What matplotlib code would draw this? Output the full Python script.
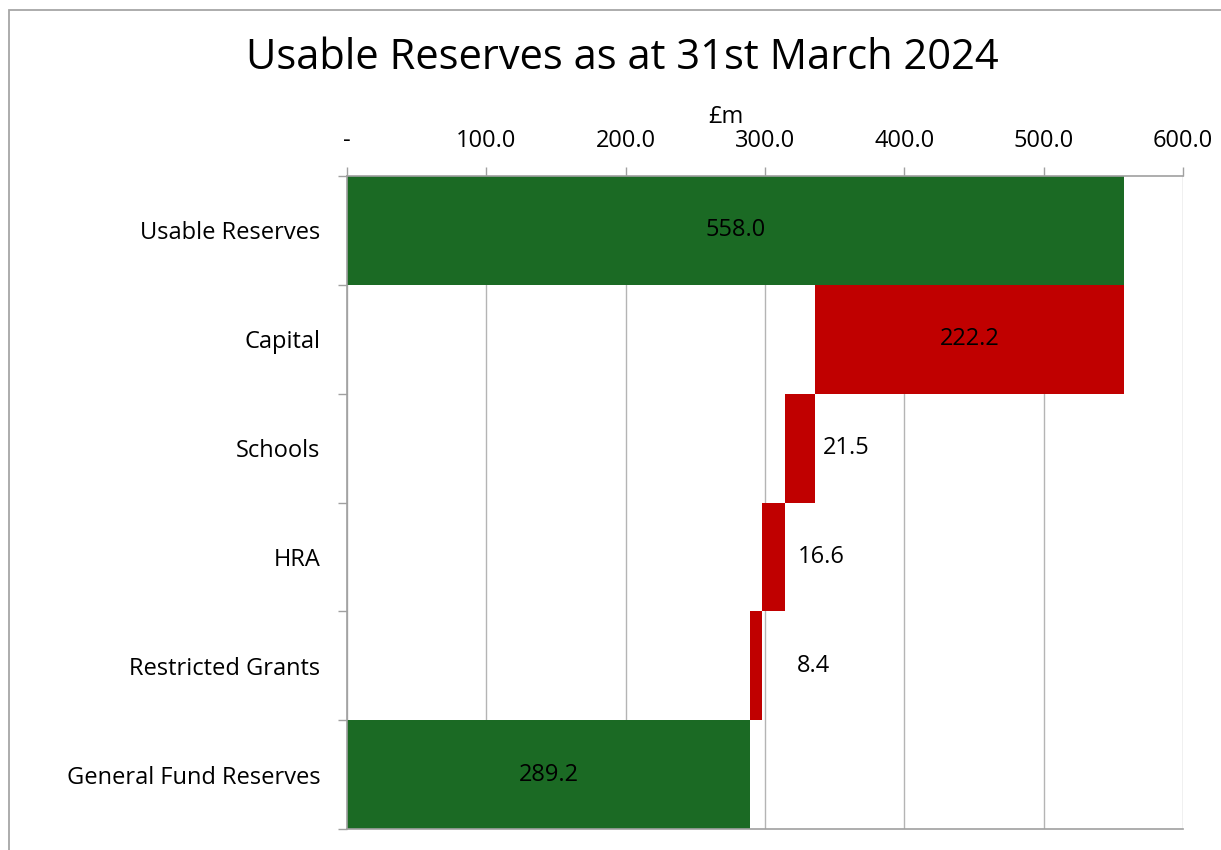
import numpy as np
import matplotlib.pyplot as plt
from matplotlib.patches import Rectangle

plt.rcParams['font.family'] = ['Open Sans', 'DejaVu Sans']

# reserves breakdown, £m
categories = ['Usable Reserves', 'Capital', 'Schools', 'HRA', 'Restricted Grants', 'General Fund Reserves']
values = [558.0, 222.2, 21.5, 16.6, 8.4, 289.2]
kinds = ['total', 'step', 'step', 'step', 'step', 'total']

xticks = [0, 100, 200, 300, 400, 500, 600]
xtick_labels = ['-', '100.0', '200.0', '300.0', '400.0', '500.0', '600.0']

green = '#1b6a24'
red = '#c00000'
grid_grey = '#b4b4b4'
spine_grey = '#a0a0a0'
fs = 17

# waterfall: totals start at zero, steps hang down from the running total
lefts = []
running = 0.0
for val, kind in zip(values, kinds):
    if kind == 'total':
        lefts.append(0.0)
        running = val
    else:
        running -= val
        lefts.append(running)
colors = [green if k == 'total' else red for k in kinds]

fig = plt.figure(figsize=(12.21, 8.5), dpi=100)
ax = fig.add_axes([347 / 1221, 1 - 829 / 850, 836 / 1221, 653 / 850])

y = np.arange(len(categories))
ax.barh(y, values, left=lefts, height=1.0, color=colors, edgecolor='none', zorder=2)

# labels: inside the wide bars, just right of the thin ones (offsets in points)
outside_offset = {2: 6, 3: 9, 4: 25}
for i, (val, left) in enumerate(zip(values, lefts)):
    if i in outside_offset:
        ax.annotate(f'{val:.1f}', (left + val, i), xytext=(outside_offset[i], 0),
                    textcoords='offset points', ha='left', va='center', fontsize=fs, color='black')
    else:
        ax.text(left + val / 2, i, f'{val:.1f}', ha='center', va='center', fontsize=fs, color='black')

ax.set_xlim(0, 600)
ax.set_ylim(len(categories) - 0.5, -0.5)

ax.xaxis.tick_top()
ax.set_xticks(xticks)
ax.set_xticklabels(xtick_labels, fontsize=fs)
ax.tick_params(axis='x', which='major', length=6.5, width=1, color=spine_grey, pad=10)

ax.set_yticks(y)
ax.set_yticklabels(categories, fontsize=fs)
ax.set_yticks(np.arange(len(categories) + 1) - 0.5, minor=True)
ax.tick_params(axis='y', which='major', length=0, pad=19)
ax.tick_params(axis='y', which='minor', length=6.5, width=1, color=spine_grey)

ax.grid(axis='x', color=grid_grey, linewidth=1, zorder=0)
ax.set_axisbelow(True)
for side in ['left', 'top', 'bottom']:
    ax.spines[side].set_color(spine_grey)
    ax.spines[side].set_linewidth(1.2)
ax.spines['right'].set_visible(False)

fig.text(726 / 1221, 1 - 117 / 850, '£m', ha='center', va='center', fontsize=fs)
fig.text(622 / 1221, 1 - 58 / 850, 'Usable Reserves as at 31st March 2024', ha='center', va='center', fontsize=30)

# chart area border
fig.patches.append(Rectangle((9 / 1221, -0.05), 1.2, 1 - 10 / 850 + 0.05, transform=fig.transFigure,
                             fill=False, edgecolor='#a6a6a6', linewidth=1.3))

fig.savefig('out.png', dpi=100)
